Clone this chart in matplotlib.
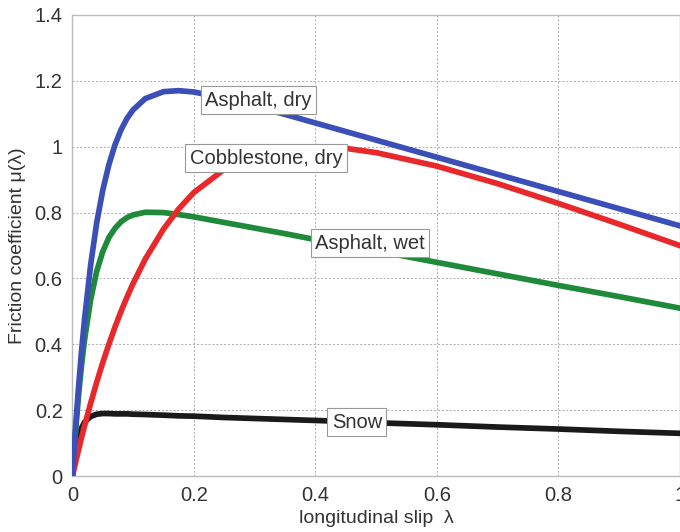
import matplotlib
matplotlib.use("Agg")
import matplotlib.pyplot as plt

# ============================================================
# Data (friction curves vs slip)
# ============================================================
slip = [0, 0.005, 0.01, 0.015, 0.02, 0.03, 0.04, 0.05, 0.06, 0.07, 0.08,
        0.09, 0.10, 0.12, 0.15, 0.175, 0.20, 0.25, 0.30, 0.35, 0.40, 0.45,
        0.50, 0.60, 0.70, 0.80, 0.90, 1.00]

asphalt_dry = [0, 0.142, 0.268, 0.379, 0.477, 0.641, 0.769, 0.868, 0.945,
               1.005, 1.051, 1.086, 1.112, 1.146, 1.167, 1.170, 1.166, 1.147,
               1.123, 1.098, 1.072, 1.046, 1.020, 0.968, 0.916, 0.864, 0.812,
               0.760]

cobblestone_dry = [0, 0.040, 0.079, 0.117, 0.153, 0.221, 0.285, 0.345, 0.400,
                   0.452, 0.500, 0.544, 0.585, 0.659, 0.750, 0.811, 0.861,
                   0.931, 0.973, 0.994, 1.000, 0.995, 0.982, 0.941, 0.888,
                   0.828, 0.765, 0.700]

asphalt_wet = [0, 0.132, 0.243, 0.336, 0.414, 0.536, 0.622, 0.682, 0.724,
               0.752, 0.772, 0.785, 0.793, 0.801, 0.800, 0.794, 0.787, 0.770,
               0.753, 0.736, 0.718, 0.701, 0.684, 0.649, 0.614, 0.579, 0.545,
               0.510]

snow = [0, 0.073, 0.118, 0.146, 0.164, 0.181, 0.188, 0.190, 0.190, 0.189,
        0.189, 0.189, 0.188, 0.187, 0.185, 0.183, 0.182, 0.178, 0.175, 0.172,
        0.169, 0.166, 0.162, 0.156, 0.149, 0.143, 0.136, 0.130]

labels = ["Asphalt, dry", "Cobblestone, dry", "Asphalt, wet", "Snow"]
label_pos = [(0.219, 1.141), (0.193, 0.965), (0.400, 0.707), (0.427, 0.164)]

xticks = [0, 0.2, 0.4, 0.6, 0.8, 1]
xticklabels = ["0", "0.2", "0.4", "0.6", "0.8", "1"]
yticks = [0, 0.2, 0.4, 0.6, 0.8, 1.0, 1.2, 1.4]
yticklabels = ["0", "0.2", "0.4", "0.6", "0.8", "1", "1.2", "1.4"]

plt.rcParams["font.family"] = ["Liberation Sans", "DejaVu Sans"]

fig = plt.figure(figsize=(6.8, 5.32), dpi=100)
# axes run to the right edge like in the reference
ax = fig.add_axes([0.1065, 0.105, 0.893, 0.867])

lw = 4.1
ax.plot(slip, snow, color="#1a1a1a", lw=lw, zorder=3)
ax.plot(slip, asphalt_wet, color="#1e8a3a", lw=lw, zorder=4)
ax.plot(slip, cobblestone_dry, color="#e8282a", lw=lw, zorder=5)
ax.plot(slip, asphalt_dry, color="#3b4fb8", lw=lw, zorder=6)

for txt, (x, y) in zip(labels, label_pos):
    ax.text(x, y, txt, fontsize=14.5, color="#333333", va="center", ha="left",
            zorder=10,
            bbox=dict(boxstyle="square,pad=0.22", fc="white", ec="#999999", lw=0.8))

ax.set_xlim(0, 1)
ax.set_ylim(0, 1.4)
ax.set_xticks(xticks)
ax.set_xticklabels(xticklabels)
ax.set_yticks(yticks)
ax.set_yticklabels(yticklabels)
ax.tick_params(labelsize=14.5, colors="#333333", length=0, pad=7)
ax.grid(True, ls=(0, (2, 2)), color="#aaaaaa", lw=0.7)
for s in ax.spines.values():
    s.set_color("#bbbbbb")
    s.set_linewidth(1.0)

ax.set_xlabel("longitudinal slip  λ", fontsize=14, color="#333333", labelpad=4)
ax.set_ylabel("Friction coefficient μ(λ)", fontsize=14, color="#333333", labelpad=6)

fig.savefig("out.png", dpi=100)
